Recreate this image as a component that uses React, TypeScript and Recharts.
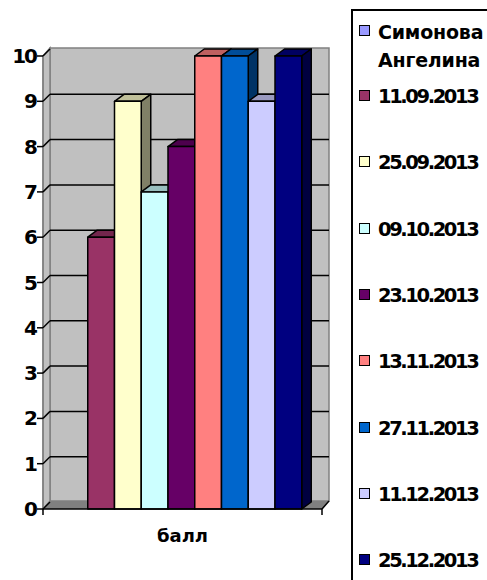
import React from "react";
import { BarChart, Bar, XAxis, YAxis, Legend, ReferenceArea, ReferenceLine } from "recharts";

const FONT = "'DejaVu Sans', sans-serif";
const DEPTH_X = 9.5;
const DEPTH_Y = 7;

const seriesNames = [
    "Симонова Ангелина",
    "11.09.2013",
    "25.09.2013",
    "09.10.2013",
    "23.10.2013",
    "13.11.2013",
    "27.11.2013",
    "11.12.2013",
    "25.12.2013",
];
const seriesValues = [0, 6, 9, 7, 8, 10, 10, 9, 10];
const seriesColors = ["#9999ff", "#993366", "#ffffcc", "#ccffff", "#660066", "#ff8080", "#0066cc", "#ccccff", "#000080"];
const sideColors = ["#4d4d80", "#4d1a33", "#808066", "#668080", "#330033", "#804040", "#003366", "#666680", "#000040"];
const topColors = ["#7373bf", "#73264d", "#bfbf99", "#99bfbf", "#4d004d", "#bf6060", "#004d99", "#9999bf", "#000060"];
const yTicks = [0, 1, 2, 3, 4, 5, 6, 7, 8, 9, 10];
const gridValues = [1, 2, 3, 4, 5, 6, 7, 8, 9];
const legendRows = [31, 96, 162, 229, 295, 361, 428, 494, 560];

const data = [
    seriesNames.reduce<Record<string, string | number>>(
        (row, name, i) => {
            row[name] = seriesValues[i];
            return row;
        },
        { name: "балл" }
    ),
];

function Bar3D(props: any, i: number) {
    const { y, width, height } = props;
    const x = props.x - 1;
    if (!height) return <g />;
    return (
        <g stroke="#000" strokeWidth={1.5} strokeLinejoin="round">
            <polygon
                points={`${x},${y} ${x + DEPTH_X},${y - DEPTH_Y} ${x + width + DEPTH_X},${y - DEPTH_Y} ${x + width},${y}`}
                fill={topColors[i]}
            />
            <polygon
                points={`${x + width},${y} ${x + width + DEPTH_X},${y - DEPTH_Y} ${x + width + DEPTH_X},${y + height - DEPTH_Y} ${x + width},${y + height}`}
                fill={sideColors[i]}
            />
            <rect x={x} y={y} width={width} height={height} fill={seriesColors[i]} />
        </g>
    );
}

function Walls({ x, y, width, height }: any) {
    const bottom = y + height;
    const right = x + width;
    return (
        <g>
            <rect x={x + 7} y={y - 8} width={width} height={height} fill="#c0c0c0" stroke="#808080" strokeWidth={1.5} />
            <polygon
                points={`${x},${y} ${x + 7},${y - 8} ${x + 7},${bottom - 8} ${x},${bottom}`}
                fill="#c0c0c0"
                stroke="#808080"
                strokeWidth={1.5}
            />
            <polygon
                points={`${x},${bottom} ${x + 7},${bottom - 8} ${right + 7},${bottom - 8} ${right},${bottom}`}
                fill="#808080"
            />
            <line x1={right} y1={bottom} x2={right + 7} y2={bottom - 8} stroke="#000" strokeWidth={1.5} />
            <line x1={x} y1={bottom} x2={x} y2={bottom + 6} stroke="#000" strokeWidth={1.5} />
            <line x1={right} y1={bottom} x2={right} y2={bottom + 6} stroke="#000" strokeWidth={1.5} />
        </g>
    );
}

function GridLine({ x1, x2, y1 }: any) {
    return <line x1={x1 + 7} x2={x2 + 7} y1={y1 - 7} y2={y1 - 7} stroke="#000" strokeWidth={1.5} />;
}

function YTick({ x, y, payload }: any) {
    return (
        <g>
            <text
                x={x - 1}
                y={y + 7}
                textAnchor="end"
                fontFamily={FONT}
                fontWeight="bold"
                fontSize={20}
                letterSpacing={-2}
                fill="#000"
            >
                {payload.value}
            </text>
            <line x1={x + 6} y1={y} x2={x + 13} y2={y - 7} stroke="#000" strokeWidth={1.5} />
        </g>
    );
}

function LegendBox({ payload }: any) {
    return (
        <div
            style={{
                position: "relative",
                width: 140,
                height: 590,
                border: "2px solid #000",
                boxSizing: "border-box",
                background: "#fff",
                fontFamily: FONT,
                fontWeight: "bold",
                color: "#000",
            }}
        >
            {(payload ?? []).map((entry: any, i: number) => {
                const top = legendRows[i] - 11;
                const words = i === 0 ? String(entry.value).split(" ") : [entry.value];
                return (
                    <React.Fragment key={entry.value}>
                        <div
                            style={{
                                position: "absolute",
                                left: 6,
                                top: top - 6,
                                width: 11,
                                height: 11,
                                boxSizing: "border-box",
                                border: "1.5px solid #000",
                                background: seriesColors[i],
                            }}
                        />
                        <div
                            style={{
                                position: "absolute",
                                left: 25,
                                top: top - 13,
                                lineHeight: "28px",
                                whiteSpace: "nowrap",
                                fontSize: i === 0 ? 19 : 19.5,
                                letterSpacing: i === 0 ? -0.2 : -2.4,
                            }}
                        >
                            {words.map((w: string) => (
                                <div key={w}>{w}</div>
                            ))}
                        </div>
                    </React.Fragment>
                );
            })}
        </div>
    );
}

export default function App() {
    return (
        <div style={{ position: "absolute", left: 0, top: 0, width: 487, height: 580, overflow: "hidden", background: "#fff" }}>
            <BarChart
                width={487}
                height={580}
                data={data}
                margin={{ top: 56, right: 165, bottom: 41, left: 0 }}
                barSize={26.75}
                barGap={0}
            >
                <ReferenceArea y1={0} y2={10} shape={Walls} ifOverflow="visible" zIndex={100} />
                {gridValues.map(v => (
                    <ReferenceLine key={v} y={v} shape={GridLine} ifOverflow="visible" zIndex={150} />
                ))}
                <XAxis
                    dataKey="name"
                    height={30}
                    axisLine={{ stroke: "#000", strokeWidth: 1.5 }}
                    tickLine={false}
                    tickMargin={14}
                    tick={{ fontFamily: FONT, fontWeight: "bold", fontSize: 18, fill: "#000" }}
                />
                <YAxis
                    width={43}
                    domain={[0, 10]}
                    ticks={yTicks}
                    interval={0}
                    tickSize={6}
                    tickMargin={0}
                    axisLine={{ stroke: "#808080", strokeWidth: 1.5 }}
                    tickLine={{ stroke: "#000", strokeWidth: 1.5 }}
                    tick={YTick}
                />
                <Legend
                    layout="horizontal"
                    verticalAlign="middle"
                    itemSorter={null}
                    content={LegendBox}
                    wrapperStyle={{ position: "absolute", left: 351, top: 9, width: 140, height: 590 }}
                />
                {seriesNames.map((name, i) => (
                    <Bar
                        key={name}
                        dataKey={name}
                        fill={seriesColors[i]}
                        isAnimationActive={false}
                        shape={(p: any) => Bar3D(p, i)}
                    />
                ))}
            </BarChart>
        </div>
    );
}
